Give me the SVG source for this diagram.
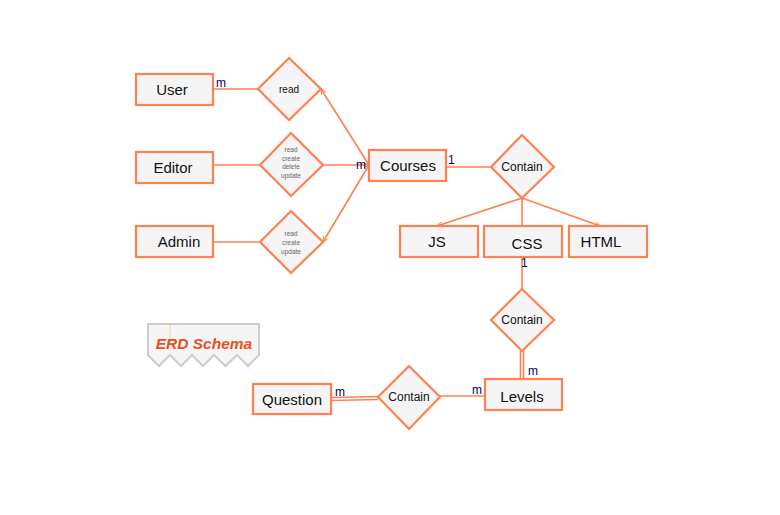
<svg xmlns="http://www.w3.org/2000/svg" width="780" height="515" viewBox="0 0 780 515">
<style>
.ent{fill:#f5f5f5;stroke:#ff8050;stroke-width:2.2}
.rel{fill:#f5f5f5;stroke:#ff8050;stroke-width:2.2}
.ln{fill:none;stroke:#ff8050;stroke-width:1.6}
.t{font-family:"Liberation Sans",Arial,sans-serif;fill:#111;text-anchor:middle}
.et{font-size:15px}
.rt{font-size:12px}
.st{font-size:6.5px;fill:#666}
.card{font-family:"Liberation Sans",Arial,sans-serif;font-size:12px;fill:#000066}
</style>
<defs>
<marker id="arr" viewBox="0 0 10 10" refX="9" refY="5" markerWidth="6" markerHeight="6" orient="auto-start-reverse" markerUnits="userSpaceOnUse">
<path d="M0,1 L10,5 L0,9" fill="none" stroke="#ff8050" stroke-width="1.6"/>
</marker>
</defs>
<rect width="780" height="515" fill="#fff"/>
<g id="connectors">
<line class="ln" x1="213" y1="89" x2="258" y2="89"/>
<line class="ln" x1="213" y1="165" x2="260" y2="165"/>
<line class="ln" x1="213" y1="242" x2="260" y2="242"/>
<line class="ln" x1="369" y1="165" x2="321" y2="89" marker-end="url(#arr)"/>
<line class="ln" x1="369" y1="165" x2="323" y2="242" marker-end="url(#arr)"/>
<line class="ln" x1="323" y1="165" x2="369" y2="165" marker-end="url(#arr)"/>
<line class="ln" x1="446" y1="167" x2="491" y2="167"/>
<line class="ln" x1="522" y1="198" x2="437" y2="226" marker-end="url(#arr)"/>
<line class="ln" x1="522" y1="198" x2="522" y2="226"/>
<line class="ln" x1="522" y1="198" x2="600" y2="226" marker-end="url(#arr)"/>
<circle cx="522" cy="198" r="2" fill="#ff8050"/>
<line class="ln" x1="522" y1="257" x2="522" y2="289"/>
<line class="ln" x1="520.5" y1="351" x2="520.5" y2="379"/>
<line class="ln" x1="523.5" y1="351" x2="523.5" y2="379"/>
<line class="ln" x1="485" y1="396" x2="440" y2="396"/>
<line class="ln" x1="331" y1="397.5" x2="378" y2="396.5"/>
<line class="ln" x1="331" y1="400.5" x2="378" y2="399.5"/>
<text class="card" x="216" y="87">m</text>
<text class="card" x="356" y="169">m</text>
<text class="card" x="448" y="164">1</text>
<text class="card" x="521" y="267">1</text>
<text class="card" x="528" y="375">m</text>
<text class="card" x="472" y="394">m</text>
<text class="card" x="335" y="396">m</text>
</g>
<g id="user"><rect class="ent" x="136" y="74" width="77" height="31"/><text class="t et" x="172" y="95">User</text></g>
<g id="editor"><rect class="ent" x="136" y="152" width="77" height="31"/><text class="t et" x="173" y="173">Editor</text></g>
<g id="admin"><rect class="ent" x="136" y="226" width="77" height="31"/><text class="t et" x="179" y="247">Admin</text></g>
<g id="read"><polygon class="rel" points="289,58 321,89 289,120 258,89"/><text class="t" x="289" y="93" font-size="10">read</text></g>
<g id="editor-rel"><polygon class="rel" points="291,133 323,165 291,196 260,165"/>
<text class="t st" x="291" y="152">read</text><text class="t st" x="291" y="161">create</text><text class="t st" x="291" y="169">delete</text><text class="t st" x="291" y="178">update</text></g>
<g id="admin-rel"><polygon class="rel" points="291,211 323,242 291,273 260,242"/>
<text class="t st" x="291" y="236">read</text><text class="t st" x="291" y="245">create</text><text class="t st" x="291" y="254">update</text></g>
<g id="courses"><rect class="ent" x="369" y="150" width="77" height="31"/><text class="t et" x="408" y="171">Courses</text></g>
<g id="contain1"><polygon class="rel" points="522,135 554,167 522,198 491,167"/><text class="t rt" x="522" y="171">Contain</text></g>
<g id="js"><rect class="ent" x="400" y="226" width="78" height="31"/><text class="t et" x="437" y="247">JS</text></g>
<g id="css"><rect class="ent" x="484" y="226" width="78" height="31"/><text class="t et" x="527" y="249">CSS</text></g>
<g id="html"><rect class="ent" x="569" y="226" width="78" height="31"/><text class="t et" x="601" y="247">HTML</text></g>
<g id="contain2"><polygon class="rel" points="522,289 554,320 522,351 491,320"/><text class="t rt" x="522" y="324">Contain</text></g>
<g id="levels"><rect class="ent" x="485" y="379" width="77" height="31"/><text class="t et" x="522" y="402">Levels</text></g>
<g id="contain3"><polygon class="rel" points="409,366 440,397 409,429 378,397"/><text class="t rt" x="409" y="401">Contain</text></g>
<g id="question"><rect class="ent" x="253" y="384" width="78" height="30"/><text class="t et" x="292" y="405">Question</text></g>
<g id="erd-schema">
<path d="M148,324 H259 V355 L248,366 L237,355 L225.5,366 L214,355 L203,366 L192,355 L181,366 L170,355 L159,366 L148,355 Z" fill="#f5f5f5" stroke="#cccccc" stroke-width="2"/>
<line x1="170" y1="325" x2="170" y2="342" stroke="#ffcc99" stroke-width="1"/>
<text x="204" y="349" font-family="&quot;Liberation Sans&quot;,Arial,sans-serif" font-size="15.5" font-weight="bold" font-style="italic" fill="#e5501e" text-anchor="middle">ERD Schema</text>
</g>
</svg>
